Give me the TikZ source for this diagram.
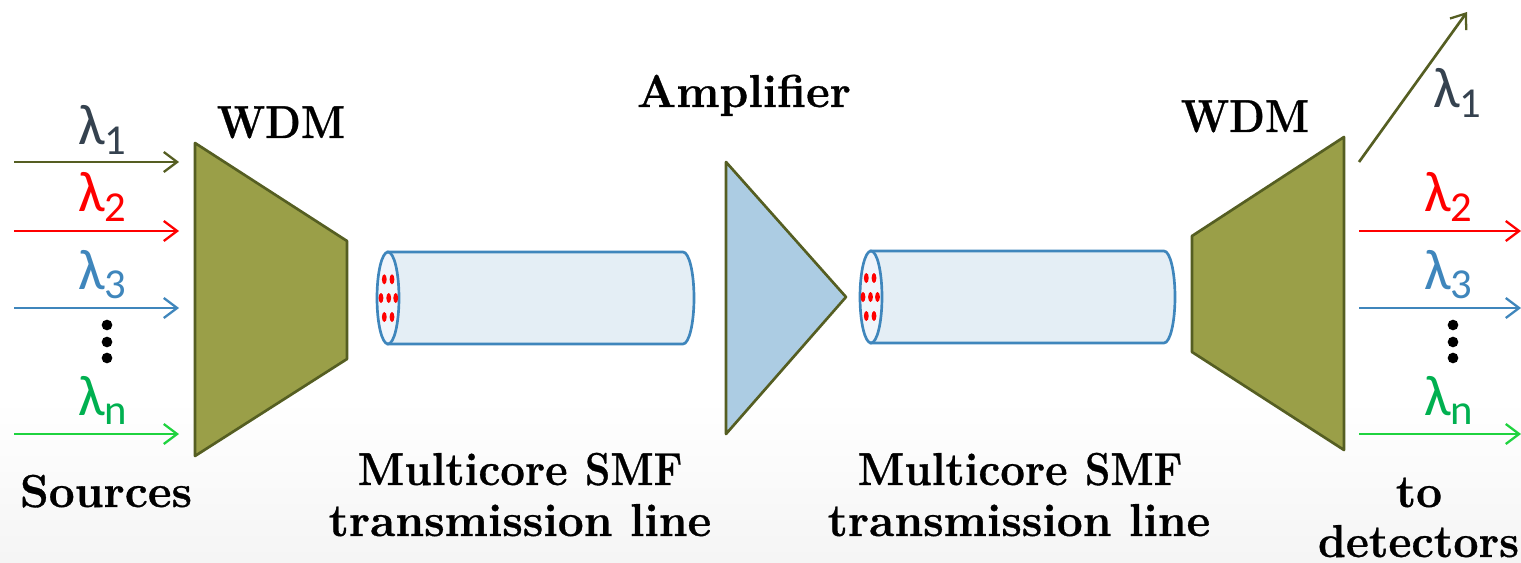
\documentclass[tikz,border=0pt]{standalone}
\usepackage{fontspec}
\newfontfamily\lamfont{Carlito}
\newfontfamily\labfont[FakeBold=0.7]{lmroman12-bold.otf}
\definecolor{olivefill}{HTML}{9A9F48}
\definecolor{oliveline}{HTML}{555E22}
\definecolor{ampfill}{HTML}{ACCCE3}
\definecolor{fiberfill}{HTML}{E4EEF5}
\definecolor{fiberface}{HTML}{F0F5FB}
\definecolor{fiberline}{HTML}{3F86BC}
\definecolor{lamone}{HTML}{35424F}
\definecolor{lamn}{HTML}{00B050}
\definecolor{arrn}{HTML}{1FD33F}
\usetikzlibrary{arrows.meta}
\tikzset{
  wdmbox/.style={draw=oliveline,fill=olivefill,line width=2pt,line join=round},
  ampbox/.style={draw=oliveline,fill=ampfill,line width=2pt,line join=round},
  fiberbody/.style={draw=fiberline,fill=fiberfill,line width=2pt},
  fiberend/.style={draw=fiberline,fill=fiberface,line width=2pt},
  core/.style={fill=red,draw=none},
  sig/.style={line width=2pt,-{Straight Barb[length=10pt,width=15pt,line width=1.7pt]}},
  lab/.style={font=\fontsize{34.6}{38}\selectfont\labfont,inner sep=0pt,anchor=base},
  lamlab/.style={font=\fontsize{43}{45}\selectfont\lamfont,inner sep=0pt,anchor=base west},
  dot/.style={circle,fill=black,inner sep=0pt,minimum size=8pt}
}
\newcommand{\lam}[1]{λ\raisebox{-0.16em}{\fontsize{32}{34}\selectfont #1}}
\newcommand{\capword}{\scalebox{0.9}[1]{WDM}}
\newcommand{\mcore}{\scalebox{0.95}[1]{Multicore} \scalebox{0.88}[1]{SMF}}
\begin{document}
\begin{tikzpicture}[x=0.75pt,y=-0.75pt]
\useasboundingbox (0,0) rectangle (1521,563);
\fill[white] (0,0) rectangle (1521,563);
\shade[top color=white,bottom color=black!4,draw=none] (0,400) rectangle (1521,563);
% WDM blocks
\draw[wdmbox] (195,143) -- (347,241) -- (347,359) -- (195,456) -- cycle;
\draw[wdmbox] (1344,137) -- (1192,236) -- (1192,352) -- (1344,450) -- cycle;
% Amplifier
\draw[ampbox] (726,162) -- (846,297) -- (726,434) -- cycle;
% Fibres
\draw[fiberbody] (388,252) -- (683,252) arc[start angle=-90,end angle=90,x radius=11,y radius=46] -- (388,344) -- cycle;
\draw[fiberend] (388,298) ellipse[x radius=11,y radius=46];
\foreach \x/\y in {384.3/279.3,392/279.3,381/298,388.7/298,395.7/298,384.3/317,392/317}
  \fill[core] (\x,\y) ellipse[x radius=2.4,y radius=5];
\draw[fiberbody] (871,251) -- (1164,251) arc[start angle=-90,end angle=90,x radius=11,y radius=46] -- (871,343) -- cycle;
\draw[fiberend] (871,297) ellipse[x radius=11,y radius=46];
\foreach \x/\y in {866.3/278,874/278,863/297,870.5/297,877.5/297,866.3/316,874/316}
  \fill[core] (\x,\y) ellipse[x radius=2.4,y radius=5];
% Signal end points
\coordinate (inA) at (14,162);   \coordinate (inAe) at (179,162);
\coordinate (inB) at (14,231);   \coordinate (inBe) at (179,231);
\coordinate (inC) at (14,308);   \coordinate (inCe) at (179,308);
\coordinate (inN) at (14,434);   \coordinate (inNe) at (179,434);
\coordinate (outA) at (1359,162); \coordinate (outAe) at (1467,12);
\coordinate (outB) at (1359,231); \coordinate (outBe) at (1521,231);
\coordinate (outC) at (1359,308); \coordinate (outCe) at (1521,308);
\coordinate (outN) at (1359,434); \coordinate (outNe) at (1521,434);
\draw[sig,oliveline] (inA) -- (inAe);
\draw[sig,red] (inB) -- (inBe);
\draw[sig,fiberline] (inC) -- (inCe);
\draw[sig,arrn] (inN) -- (inNe);
\draw[sig,oliveline] (outA) -- (outAe);
\draw[sig,red] (outB) -- (outBe);
\draw[sig,fiberline] (outC) -- (outCe);
\draw[sig,arrn] (outN) -- (outNe);
% Lambda labels
\node[lamlab,text=lamone] (l1) at (78,145) {\lam{1}};
\node[lamlab,text=red] (l2) at (78,212) {\lam{2}};
\node[lamlab,text=fiberline] (l3) at (78,289) {\lam{3}};
\node[lamlab,text=lamn] (ln) at (78,415) {\lam{n}};
\node[lamlab,text=lamone] (r1) at (1433,108) {\lam{1}};
\node[lamlab,text=red] (r2) at (1424,212) {\lam{2}};
\node[lamlab,text=fiberline] (r3) at (1424,289) {\lam{3}};
\node[lamlab,text=lamn] (rn) at (1424,415) {\lam{n}};
% Dots
\foreach \n/\y in {a/325,b/342,c/358} {
  \node[dot] (dl\n) at (107,\y) {};
  \node[dot] (dr\n) at (1453,\y) {};
}
% Text labels
\node[lab] (wdmL) at (281,138) {\capword};
\node[lab] (amp) at (744,107) {Amplifier};
\node[lab] (wdmR) at (1245,132) {\capword};
\node[lab] (srcs) at (106,507) {Sources};
\node[lab] (mcL) at (520,485) {\mcore};
\node[lab] (tlL) at (520,536) {transmission line};
\node[lab] (mcR) at (1020,485) {\mcore};
\node[lab] (tlR) at (1019,536) {transmission line};
\node[lab] (to) at (1419,507) {to};
\node[lab] (det) at (1418.5,557) {\scalebox{0.97}[1]{detectors}};
\end{tikzpicture}
\end{document}
